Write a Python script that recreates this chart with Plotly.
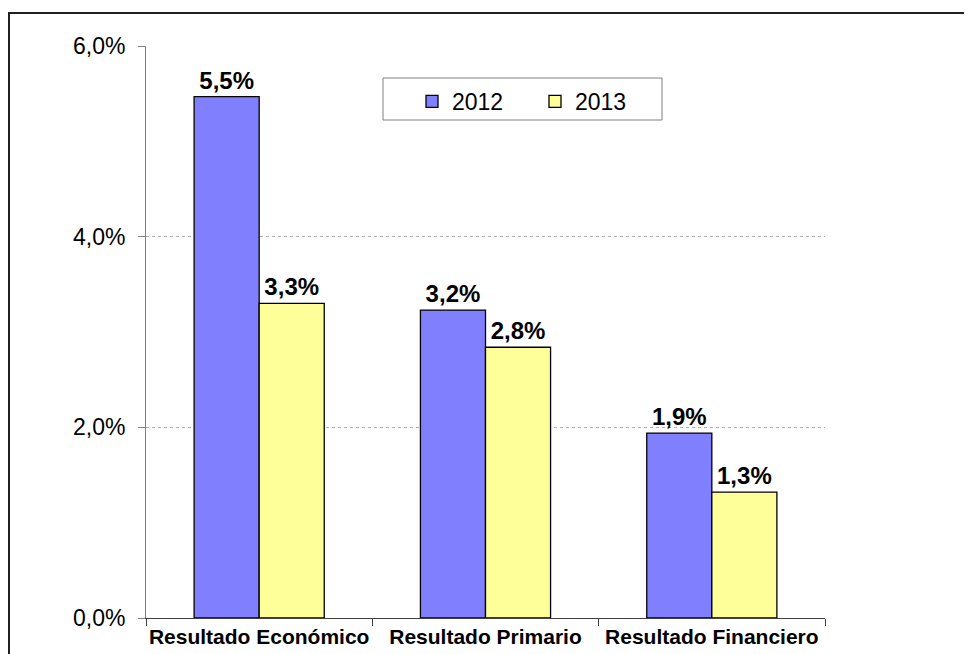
import plotly.graph_objects as go

categories = ["Resultado Económico", "Resultado Primario", "Resultado Financiero"]
values_2012 = [5.47, 3.23, 1.94]
values_2013 = [3.30, 2.84, 1.32]
y_ticks = [0, 2, 4, 6]

# page body has an 8px margin, so the figure is offset by 8px on screen
OFF = 8
W, H = 972 - OFF, 654 - OFF
# plot area on screen: x 146..825, y 46..618
SX0, SX1, SY0, SY1 = 146, 825, 46, 618
L, T = SX0 - OFF, SY0 - OFF
R, B = W - (SX1 - OFF), H - (SY1 - OFF)
pw, ph = SX1 - SX0, SY1 - SY0


def px(sx):
    return (sx - SX0) / pw


def py(sy):
    return 1 - (sy - SY0) / ph


FONT = "Liberation Sans, Arial"

fig = go.Figure()
for name, vals, col in [("2012", values_2012, "#8080FF"), ("2013", values_2013, "#FFFF99")]:
    fig.add_trace(go.Bar(
        x=categories, y=vals, name=name,
        marker=dict(color=col, line=dict(color="#000000", width=1.3)),
        texttemplate="%{y:.1f}%", textposition="outside",
        textfont=dict(family=FONT, size=24, color="#000000", weight="bold"),
        cliponaxis=False,
    ))

fig.update_layout(
    width=W, height=H,
    margin=dict(l=L, r=R, t=T, b=B, autoexpand=False),
    paper_bgcolor="white", plot_bgcolor="white",
    separators=",.",
    barmode="group", bargap=0.425, bargroupgap=0,
    font=dict(family=FONT, color="#000000"),
    showlegend=True,
    legend=dict(
        orientation="h", x=px(412), y=py(80), xanchor="left", yanchor="top",
        borderwidth=0, bgcolor="rgba(0,0,0,0)",
        font=dict(size=23, family=FONT),
        entrywidth=78, itemwidth=30,
    ),
    xaxis=dict(
        showline=True, linecolor="#404040", linewidth=1,
        ticks="outside", ticklen=7, tickcolor="#404040", tickson="boundaries",
        tickfont=dict(size=21, family=FONT, weight="bold"),
        tickangle=0, automargin=False,
        showgrid=False,
    ),
    yaxis=dict(
        range=[0, 6], tickvals=y_ticks, ticktext=[f"{v:.1f}%".replace(".", ",") for v in y_ticks],
        showline=True, linecolor="#808080", linewidth=1,
        ticks="outside", ticklen=7, tickcolor="#808080",
        tickfont=dict(size=23, family=FONT),
        ticklabelstandoff=8, automargin=False,
        showgrid=True, gridcolor="#b0b0b0", griddash="dot", gridwidth=1,
        zeroline=False,
    ),
    shapes=[
        dict(
            type="rect", xref="paper", yref="paper",
            x0=px(9), x1=px(990), y0=py(680), y1=py(13),
            line=dict(color="#202020", width=2), fillcolor="rgba(0,0,0,0)", layer="below",
        ),
        dict(
            type="rect", xref="paper", yref="paper",
            x0=px(383), x1=px(662), y0=py(120), y1=py(78),
            line=dict(color="#808080", width=1), fillcolor="white", layer="below",
        ),
    ],
)

fig.write_html("out.html")
